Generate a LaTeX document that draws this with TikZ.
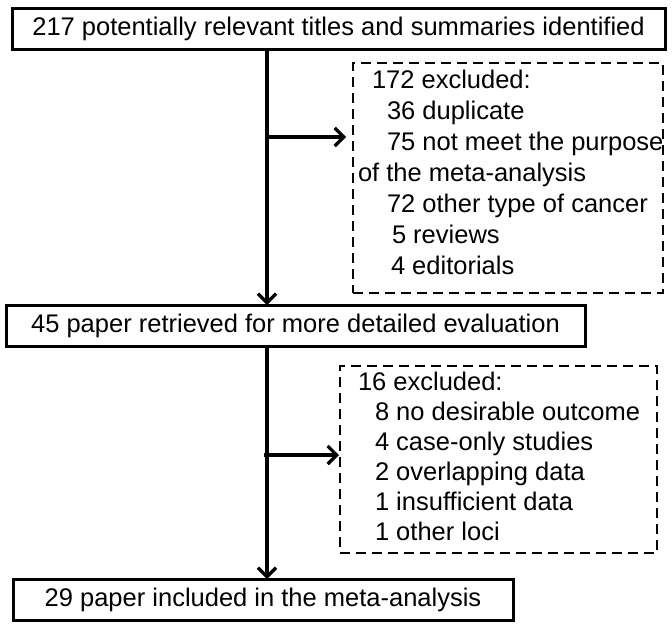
\documentclass[tikz,border=0pt]{standalone}
\usepackage{fontspec}
\setmainfont{Liberation Sans}
\usetikzlibrary{arrows.meta}
\begin{document}
\begin{tikzpicture}[x=1pt,y=1pt,
  every node/.style={font=\fontsize{25.5}{30}\selectfont, inner sep=0pt, outer sep=0pt},
  solidbox/.style={draw, line width=3pt, rectangle, anchor=north west},
  dashbox/.style={draw, line width=2.8pt, rectangle, anchor=north west, dash pattern=on 10pt off 6pt},
  txt/.style={anchor=base west},
  arr/.style={line width=3.3pt, -{Straight Barb[length=9pt,width=18pt,line width=3.3pt]}}
]
\useasboundingbox (0,0) rectangle (672,-629);

% solid boxes
\node[solidbox, minimum width=653pt, minimum height=41pt] (b1) at (12,-8)
  {217 potentially relevant titles and summaries identified};
\node[solidbox, minimum width=579pt, minimum height=41pt] (b2) at (6,-305)
  {45 paper retrieved for more detailed evaluation};
\node[solidbox, minimum width=500pt, minimum height=41pt] (b3) at (13,-579)
  {29 paper included in the meta-analysis};

% dashed boxes
\node[dashbox, minimum width=310pt, minimum height=230pt] (d1) at (353,-63) {};
\node[dashbox, minimum width=317pt, minimum height=187pt] (d2) at (340,-366) {};

% text in dashed box 1
\node[txt] (a1) at (372,-88) {172 excluded:};
\node[txt] (a2) at (387,-119) {36 duplicate};
\node[txt] (a3) at (387,-150) {75 not meet the purpose};
\node[txt] (a4) at (358,-181) {of the meta-analysis};
\node[txt] (a5) at (387,-212) {72 other type of cancer};
\node[txt] (a6) at (392,-243) {5 reviews};
\node[txt] (a7) at (391,-274) {4 editorials};

% text in dashed box 2
\node[txt] (e1) at (358,-390) {16 excluded:};
\node[txt] (e2) at (375,-420) {8 no desirable outcome};
\node[txt] (e3) at (375,-450) {4 case-only studies};
\node[txt] (e4) at (375,-480) {2 overlapping data};
\node[txt] (e5) at (375,-510) {1 insufficient data};
\node[txt] (e6) at (375,-540) {1 other loci};

% connectors
\coordinate (v) at (267,0);
\coordinate (h1) at (267,-137);
\coordinate (h2) at (264,-455);
\draw[arr] (b1.south -| v) -- (b2.north -| v);
\draw[arr] (b2.south -| v) -- (b3.north -| v);
\draw[arr, shorten >=7pt] (h1) -- (h1 -| d1.west);
\draw[arr, shorten >=1pt] (h2) -- (h2 -| d2.west);
\end{tikzpicture}
\end{document}
